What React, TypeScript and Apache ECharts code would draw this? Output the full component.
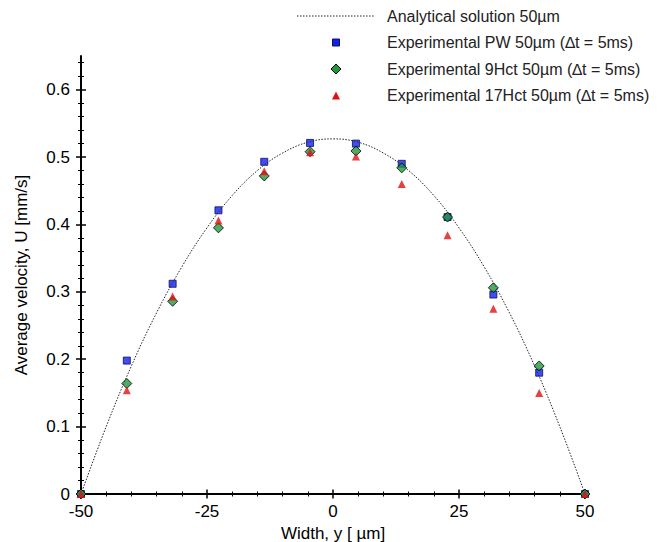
import React, { useEffect, useRef } from 'react';
import * as echarts from 'echarts';

// ---- data ----
const xPositions = [-50, -40.91, -31.82, -22.73, -13.64, -4.55, 4.55, 13.64, 22.73, 31.82, 40.91, 50];
const pwVelocity = [0, 0.198, 0.312, 0.421, 0.493, 0.521, 0.520, 0.490, 0.411, 0.296, 0.180, 0];
const hct9Velocity = [0, 0.164, 0.286, 0.395, 0.472, 0.508, 0.509, 0.484, 0.411, 0.306, 0.190, 0];
const hct17Velocity = [0, 0.154, 0.293, 0.406, 0.479, 0.507, 0.501, 0.460, 0.384, 0.275, 0.150, 0];

const analyticalX = [-50, -45, -40, -35, -30, -25, -20, -15, -10, -5, 0, 5, 10, 15, 20, 25, 30, 35, 40, 45, 50];
const analyticalU = [0, 0.100, 0.190, 0.269, 0.337, 0.395, 0.443, 0.480, 0.506, 0.522, 0.527, 0.522, 0.506, 0.480, 0.443, 0.395, 0.337, 0.269, 0.190, 0.100, 0];

const xMajorTicks = [-50, -25, 0, 25, 50];
const xMinorTicks = [-45, -40, -35, -30, -20, -15, -10, -5, 5, 10, 15, 20, 30, 35, 40, 45];
const yMajorTicks = [0, 0.1, 0.2, 0.3, 0.4, 0.5, 0.6];
const yMinorTicks = [0.02, 0.04, 0.06, 0.08, 0.12, 0.14, 0.16, 0.18, 0.22, 0.24, 0.26, 0.28, 0.32, 0.34, 0.36, 0.38, 0.42, 0.44, 0.46, 0.48, 0.52, 0.54, 0.56, 0.58, 0.62, 0.64];

const seriesNames = [
  'Analytical solution 50\u00b5m',
  'Experimental PW 50\u00b5m (\u2206t = 5ms)',
  'Experimental 9Hct 50\u00b5m (\u2206t = 5ms)',
  'Experimental 17Hct 50\u00b5m (\u2206t = 5ms)',
];

const FONT = 'Liberation Sans, Arial, sans-serif';
const BLUE = '#1020f0';
const GREEN = '#1f9a3c';
const RED = '#e01010';

function zip(xs: number[], ys: number[]) {
  return xs.map((x, i) => [x, ys[i]]);
}

const GRID = { left: 81, right: 82, top: 56, bottom: 48, containLabel: false, outerBoundsMode: 'none' };

function tickX(gridIndex: number, ticks: number[], interval: number, inside: boolean, length: number, width: number) {
  return {
    type: 'value', min: -50, max: 50, interval, gridIndex, position: 'bottom',
    splitLine: { show: false },
    axisLine: { show: false, onZero: false },
    axisLabel: { show: false },
    axisTick: { show: true, inside, length, customValues: ticks, lineStyle: { color: '#000', width } },
  };
}
function tickY(gridIndex: number, ticks: number[], interval: number, inside: boolean, length: number, width: number) {
  return {
    type: 'value', min: 0, max: 0.65, interval, gridIndex, position: 'left',
    splitLine: { show: false },
    axisLine: { show: false, onZero: false },
    axisLabel: { show: false },
    axisTick: { show: true, inside, length, customValues: ticks, lineStyle: { color: '#000', width } },
  };
}

export default function App() {
  const ref = useRef<HTMLDivElement>(null);
  useEffect(() => {
    const chart = echarts.init(ref.current!, null, { renderer: 'svg' });
    const lx = 297, lineEnd = 374, mx = 336, tx = 387;
    const rows = [16, 42.5, 69, 95.5];
    chart.setOption({
      animation: false,
      backgroundColor: '#fff',
      grid: [GRID, GRID, GRID, GRID],
      xAxis: [
        {
          type: 'value', min: -50, max: 50, interval: 25, gridIndex: 0, position: 'bottom',
          splitLine: { show: false },
          axisLine: { show: true, onZero: false, lineStyle: { color: '#000', width: 2 } },
          axisTick: { show: true, inside: false, length: 4.5, customValues: xMajorTicks, lineStyle: { color: '#000', width: 1.5 } },
          axisLabel: { show: true, color: '#000', fontSize: 17, fontFamily: FONT, margin: 9 },
          name: 'Width, y [ \u00b5m]',
          nameLocation: 'middle',
          nameGap: 27,
          nameTextStyle: { color: '#000', fontSize: 17, fontFamily: FONT },
        },
        tickX(1, xMajorTicks, 25, true, 4.5, 1.5),
        tickX(2, xMinorTicks, 5, false, 2.5, 1),
        tickX(3, xMinorTicks, 5, true, 2.5, 1),
      ],
      yAxis: [
        {
          type: 'value', min: 0, max: 0.65, interval: 0.1, gridIndex: 0, position: 'left',
          splitLine: { show: false },
          axisLine: { show: true, onZero: false, lineStyle: { color: '#000', width: 2 } },
          axisTick: { show: true, inside: false, length: 5, customValues: yMajorTicks, lineStyle: { color: '#000', width: 1.5 } },
          axisLabel: { show: true, color: '#000', fontSize: 17, fontFamily: FONT, margin: 11, customValues: yMajorTicks },
          name: 'Average velocity, U [mm/s]',
          nameLocation: 'middle',
          nameGap: 51,
          nameTextStyle: { color: '#000', fontSize: 17, fontFamily: FONT },
        },
        tickY(1, yMajorTicks, 0.1, true, 5, 1.5),
        tickY(2, yMinorTicks, 0.02, false, 3, 1),
        tickY(3, yMinorTicks, 0.02, true, 3, 1),
      ],
      series: [
        {
          name: seriesNames[0],
          type: 'line',
          xAxisIndex: 0, yAxisIndex: 0,
          data: zip(analyticalX, analyticalU),
          smooth: 0.4,
          showSymbol: false,
          lineStyle: { color: '#222', width: 1, type: [1.5, 1.5] },
          z: 2,
        },
        {
          name: seriesNames[1],
          type: 'scatter',
          xAxisIndex: 0, yAxisIndex: 0,
          data: zip(xPositions, pwVelocity),
          symbol: 'rect',
          symbolSize: 7,
          itemStyle: { color: BLUE, borderColor: '#101050', borderWidth: 1 },
          z: 3,
        },
        {
          name: seriesNames[2],
          type: 'scatter',
          xAxisIndex: 0, yAxisIndex: 0,
          data: zip(xPositions, hct9Velocity),
          symbol: 'diamond',
          symbolSize: 10,
          itemStyle: { color: GREEN, borderColor: '#000', borderWidth: 1 },
          z: 4,
        },
        {
          name: seriesNames[3],
          type: 'scatter',
          xAxisIndex: 0, yAxisIndex: 0,
          data: zip(xPositions, hct17Velocity),
          symbol: 'triangle',
          symbolSize: 8,
          itemStyle: { color: RED },
          z: 5,
        },
      ],
      graphic: [
        { type: 'line', shape: { x1: lx, y1: rows[0], x2: lineEnd, y2: rows[0] }, style: { stroke: '#222', lineWidth: 1, lineDash: [1.5, 1.5] } },
        { type: 'rect', shape: { x: mx - 3.5, y: rows[1] - 3.5, width: 7, height: 7 }, style: { fill: BLUE, stroke: '#101050', lineWidth: 1 } },
        { type: 'polygon', shape: { points: [[mx, rows[2] - 5], [mx + 5, rows[2]], [mx, rows[2] + 5], [mx - 5, rows[2]]] }, style: { fill: GREEN, stroke: '#000', lineWidth: 1 } },
        { type: 'polygon', shape: { points: [[mx, rows[3] - 4], [mx + 4, rows[3] + 4], [mx - 4, rows[3] + 4]] }, style: { fill: RED } },
        ...seriesNames.map((t, i) => ({
          type: 'text',
          x: tx,
          y: rows[i],
          style: { text: t, fill: '#222', font: `16px ${FONT}`, textVerticalAlign: 'middle', verticalAlign: 'middle' },
        })),
      ],
    });
    return () => chart.dispose();
  }, []);
  return <div ref={ref} style={{ position: 'absolute', left: 0, top: 0, width: 667, height: 542 }} />;
}
